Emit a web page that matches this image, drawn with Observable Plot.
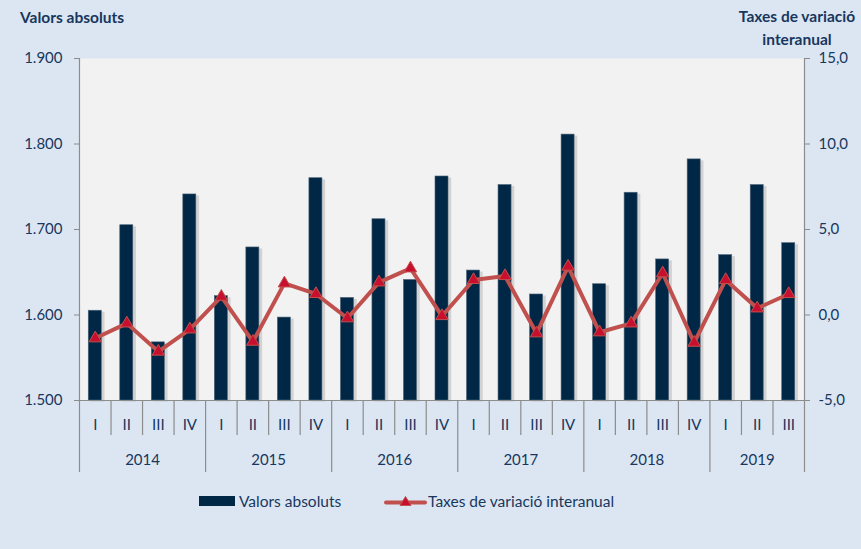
<!DOCTYPE html>
<html><head><meta charset="utf-8">
<script src="https://cdn.jsdelivr.net/npm/d3@7"></script>
<script src="https://cdn.jsdelivr.net/npm/@observablehq/plot@0.6"></script>
<style>
html,body{margin:0;padding:0;background:#dce6f2;}
body{width:861px;height:549px;position:relative;overflow:hidden;font-family:Lato,"Open Sans",sans-serif;color:#17375e;}
#chart{position:absolute;left:0;top:0;}
.title{position:absolute;font-weight:bold;font-size:15.5px;color:#17375e;}
.leg{position:absolute;font-size:15.5px;color:#17375e;line-height:18px;}
</style></head>
<body>
<div id="chart"></div>
<div class="title" style="left:20px;top:8px;">Valors absoluts</div>
<div class="title" style="left:731px;top:5px;width:132px;text-align:center;line-height:23px;">Taxes de variació<br>interanual</div>
<div style="position:absolute;left:199px;top:496px;width:36px;height:10px;background:#002846;"></div>
<div class="leg" style="left:239px;top:492px;">Valors absoluts</div>
<svg style="position:absolute;left:384px;top:494px;" width="44" height="16">
  <line x1="2" y1="8.5" x2="41" y2="8.5" stroke="#c0504d" stroke-width="4" stroke-linecap="round"/>
  <path d="M21.5,2.5 L27,11.5 L16,11.5 Z" fill="#c8102e" stroke="#c0504d" stroke-width="1"/>
</svg>
<div class="leg" style="left:428px;top:492px;">Taxes de variació interanual</div>
<script>
const quarters = ["I","II","III","IV","I","II","III","IV","I","II","III","IV","I","II","III","IV","I","II","III","IV","I","II","III"];
const years = [2014,2015,2016,2017,2018,2019];
const quartersPerYear = [4,4,4,4,4,3];
const valorsAbsoluts = [1605,1705,1568,1741,1622,1679,1597,1760,1620,1712,1641,1762,1652,1752,1624,1811,1636,1743,1665,1782,1670,1752,1684];
const taxesVariacio = [-1.36,-0.49,-2.14,-0.84,1.07,-1.56,1.85,1.23,-0.19,1.91,2.73,-0.06,2.05,2.28,-1.07,2.83,-1.01,-0.49,2.44,-1.62,2.05,0.39,1.23];
const leftTicks = [1500,1600,1700,1800,1900];
const rightTicks = [-5,0,5,10,15];

const lMin = leftTicks[0], lMax = leftTicks[leftTicks.length-1];
const rMin = rightTicks[0], rMax = rightTicks[rightTicks.length-1];
const k = (lMax - lMin) / (rMax - rMin);
const toLeft = r => lMin + (r - rMin) * k;
const fromLeft = l => rMin + (l - lMin) / k;

const n = quarters.length;
const data = valorsAbsoluts.map((v, i) => ({i, v, r: taxesVariacio[i], q: quarters[i]}));

const yearBounds = [0];
quartersPerYear.forEach(c => yearBounds.push(yearBounds[yearBounds.length-1] + c));
const yearCenters = years.map((y, j) => ({y, c: (yearBounds[j] + yearBounds[j+1]) / 2}));
const innerBounds = d3.range(1, n).filter(b => !yearBounds.includes(b));

const fmtL = d => d3.format(",")(d).replace(",", ".");
const fmtR = d => fromLeft(d).toFixed(1).replace(".", ",");
const grey = "#8c8c8c";

const chart = Plot.plot({
  width: 861, height: 549,
  marginTop: 58, marginBottom: 149, marginLeft: 79, marginRight: 57,
  style: {background: "transparent", color: "#17375e", fontFamily: "Lato, 'Open Sans', sans-serif", fontSize: "15px"},
  x: {type: "linear", domain: [0, n], axis: null},
  y: {domain: [lMin, lMax], axis: null},
  marks: [
    Plot.frame({fill: "#f2f2f2", stroke: null}),
    Plot.rectY(data, {x1: d => d.i, x2: d => d.i + 1, y1: lMin, y2: "v", insetLeft: 11, insetRight: 6, dy: 1.5, fill: "#000", fillOpacity: 0.13}),
    Plot.rectY(data, {x1: d => d.i, x2: d => d.i + 1, y1: lMin, y2: "v", insetLeft: 9.25, insetRight: 9.25, fill: "#002846", stroke: "#4d6479", strokeWidth: 0.6}),
    Plot.line(data, {x: d => d.i + 0.5, y: d => toLeft(d.r), stroke: "#c0504d", strokeWidth: 4, strokeLinejoin: "round"}),
    Plot.dot(data, {x: d => d.i + 0.5, y: d => toLeft(d.r), symbol: "triangle", r: 4.6, fill: "#c8102e", stroke: "#c0504d", strokeWidth: 1}),
    Plot.ruleY([lMin], {stroke: grey, strokeWidth: 1.2}),
    Plot.ruleX([0, n], {stroke: grey, strokeWidth: 1.2}),
    Plot.axisY({anchor: "left", label: null, ticks: leftTicks, tickSize: 5, tickPadding: 12, tickFormat: fmtL, stroke: grey, fontSize: 15}),
    Plot.axisY({anchor: "right", label: null, ticks: rightTicks.map(toLeft), tickSize: 5, tickPadding: 9, tickFormat: fmtR, stroke: grey, fontSize: 15}),
    Plot.axisX({label: null, ticks: innerBounds, tickSize: 35, tickFormat: () => "", stroke: grey, strokeWidth: 1.2}),
    Plot.axisX({label: null, ticks: yearBounds, tickSize: 72, tickFormat: () => "", stroke: grey, strokeWidth: 1.2}),
    Plot.axisX({label: null, ticks: data.map(d => d.i + 0.5), tickSize: 0, tickPadding: 19, tickFormat: d => quarters[Math.floor(d)], fontSize: 15}),
    Plot.axisX({label: null, ticks: yearCenters.map(d => d.c), tickSize: 0, tickPadding: 54, tickFormat: d => String(yearCenters.find(e => e.c === d).y), fontSize: 15})
  ]
});
document.getElementById("chart").appendChild(chart);
</script>
</body></html>
